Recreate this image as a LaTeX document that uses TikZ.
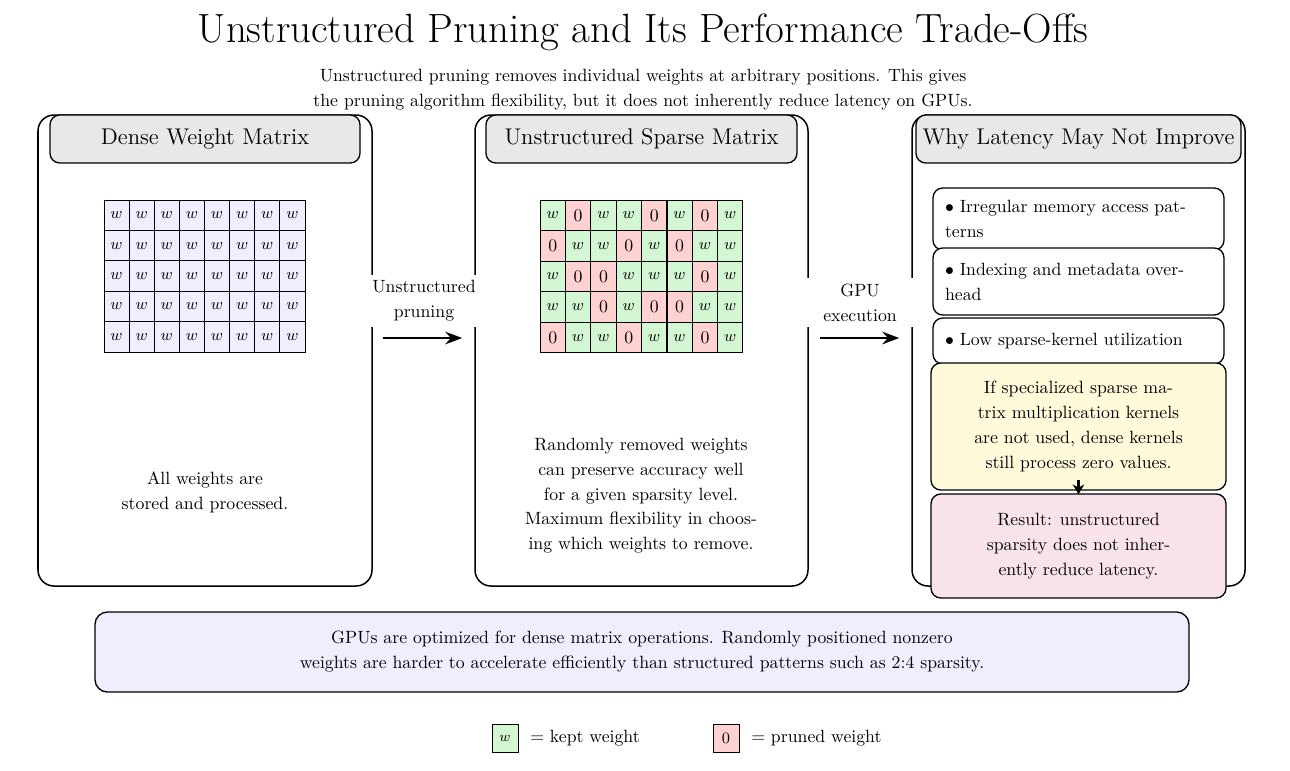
\documentclass[tikz,border=0pt]{standalone}
\usetikzlibrary{arrows.meta}
\definecolor{hdrgray}{RGB}{232,232,232}
\definecolor{lav}{RGB}{238,238,254}
\definecolor{kept}{RGB}{210,247,210}
\definecolor{pruned}{RGB}{255,209,209}
\definecolor{yel}{RGB}{255,250,218}
\definecolor{pnk}{RGB}{249,227,234}
\newcommand\bodyfont{\fontsize{10}{14.1}\selectfont}
\tikzset{
  sz/.style 2 args={minimum width={#1*0.5634pt}, minimum height={#2*0.5634pt}},
  panel/.style={draw, line width=0.85pt, rounded corners=9pt},
  hdr/.style={draw, line width=0.75pt, fill=hdrgray, rounded corners=5.5pt, font=\fontsize{12.8}{15}\selectfont, inner sep=0pt},
  cell/.style={draw, line width=0.5pt, inner sep=0pt, sz={25.125}{30.4}},
  ibox/.style={draw, line width=0.75pt, fill=white, rounded corners=5.5pt, align=left, font=\bodyfont, sz={291}{#1}, text width={267*0.5634pt}},
  cbox/.style={draw, line width=0.75pt, rounded corners=5.5pt, align=center, font=\bodyfont},
  txt/.style={align=center, font=\bodyfont},
  arr/.style={line width=1.5pt, -{Stealth[length=9.5pt, width=7pt]}},
  cover/.style={fill=white, align=center, font=\bodyfont, inner sep=3.3pt}
}
\begin{document}
\begin{tikzpicture}[x=0.5634pt, y=-0.5634pt]
\useasboundingbox (0,0) rectangle (1290,770);

% title
\node (title) at (643,32) {\fontsize{23}{28}\selectfont Unstructured Pruning and Its Performance Trade-Offs};
\node[txt] (sub) at (643,89.5) {Unstructured pruning removes individual weights at arbitrary positions. This gives\\the pruning algorithm flexibility, but it does not inherently reduce latency on GPUs.};

% panels
\node[panel, sz={334}{471}] (p1) at (205,350.5) {};
\node[panel, sz={333}{471}] (p2) at (641.5,350.5) {};
\node[panel, sz={333}{471}] (p3) at (1078.5,350.5) {};

% headers
\node[hdr, sz={310}{48}] (h1) at (205,139) {Dense Weight Matrix};
\node[hdr, sz={311}{48}] (h2) at (641.5,139) {Unstructured Sparse Matrix};
\node[hdr, sz={325}{48}] (h3) at (1078.5,139) {Why Latency May Not Improve};

% dense matrix
\foreach \r in {0,...,4}
  \foreach \c in {0,...,7}
    \node[cell, fill=lav] (d\r-\c) at ({104+25.125*(\c+0.5)},{200+30.4*(\r+0.5)}) {\small$w$};

% sparse matrix
\foreach \v [count=\i from 0] in {1,0,1,1,0,1,0,1, 0,1,1,0,1,0,1,1, 1,0,0,1,1,1,0,1, 1,1,0,1,0,0,1,1, 0,1,1,0,1,1,0,1} {
  \pgfmathtruncatemacro\r{\i/8}
  \pgfmathtruncatemacro\c{\i-8*\r}
  \ifnum\v=1
    \node[cell, fill=kept] (s\r-\c) at ({540+25.375*(\c+0.5)},{200+30.6*(\r+0.5)}) {\small$w$};
  \else
    \node[cell, fill=pruned] (s\r-\c) at ({540+25.375*(\c+0.5)},{200+30.6*(\r+0.5)}) {0};
  \fi
}

% panel texts
\node[txt] (t1) at (205,492) {All weights are\\stored and processed.};
\node[txt] (t2) at (641,471.5) {Randomly removed weights\\can preserve accuracy well\\for a given sparsity level.};
\node[txt] (t3) at (641,532.5) {Maximum flexibility in choos-\\ing which weights to remove.};

% arrows between panels
\node[cover, sz={118}{10}] (l1) at (424,301) {Unstructured\\pruning};
\node[cover, sz={114}{10}] (l2) at (860,302.5) {GPU\\execution};
\draw[arr] ([shift={(10,-12.5)}]p1.east) -- ([shift={(-12,-12.5)}]p2.west);
\draw[arr] ([shift={(11,-12.5)}]p2.east) -- ([shift={(-12,-12.5)}]p3.west);

% right panel items
\node[ibox={62}] (b1) at (1078.5,219) {$\bullet$ Irregular memory access pat-\\terns};
\node[ibox={67}] (b2) at (1078.5,281.5) {$\bullet$ Indexing and metadata over-\\head};
\node[ibox={46}] (b3) at (1078.5,341) {$\bullet$ Low sparse-kernel utilization};
\node[cbox, fill=yel, sz={295}{127}] (y1) at (1078.5,426.5) {If specialized sparse ma-\\trix multiplication kernels\\are not used, dense kernels\\still process zero values.};
\node[cbox, fill=pnk, sz={295}{104}] (r1) at (1078.5,546) {Result: unstructured\\sparsity does not inher-\\ently reduce latency.};
\draw[line width=1.2pt, -{Stealth[length=5.5pt, width=6.5pt]}] ([yshift=6pt]y1.south) -- ([yshift=-0.5pt]r1.north);

% bottom note
\node[cbox, fill=lav, sz={1094}{80}, rounded corners=7pt] (note) at (642,652) {GPUs are optimized for dense matrix operations. Randomly positioned nonzero\\weights are harder to accelerate efficiently than structured patterns such as 2:4 sparsity.};

% legend
\node[draw, line width=0.5pt, fill=kept, inner sep=0pt, sz={26}{28}] (lk) at (505,738) {\footnotesize$w$};
\node[font=\bodyfont, anchor=west] (lkt) at (524,738) {$=$ kept weight};
\node[draw, line width=0.5pt, fill=pruned, inner sep=0pt, sz={26}{28}] (lp) at (726,738) {\small 0};
\node[font=\bodyfont, anchor=west] (lpt) at (745,738) {$=$ pruned weight};
\end{tikzpicture}
\end{document}
